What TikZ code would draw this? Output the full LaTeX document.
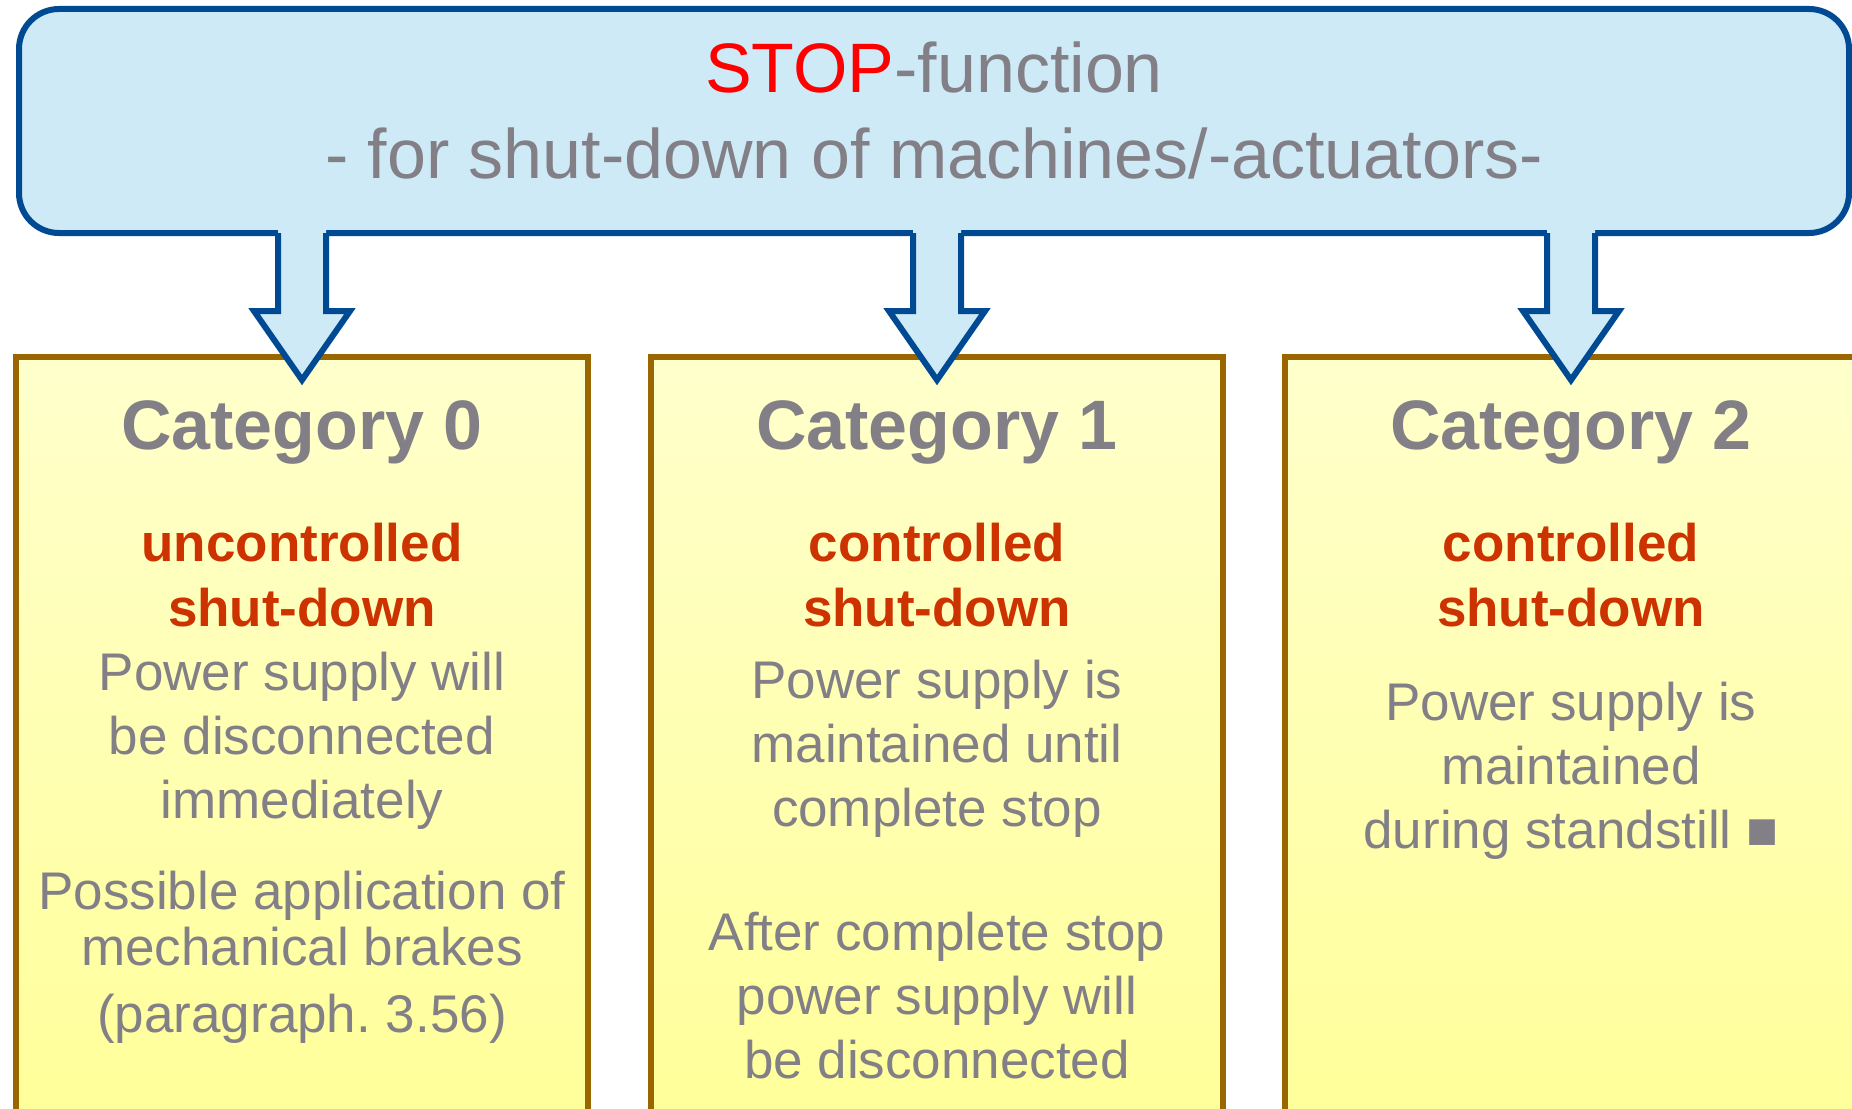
\documentclass[tikz,border=0pt]{standalone}
\usepackage{fontspec}
\setmainfont{Liberation Sans}
\usepackage{tikz}
\usetikzlibrary{calc}
\frenchspacing
\definecolor{stopblue}{RGB}{0,74,148}
\definecolor{stopfill}{RGB}{206,234,247}
\definecolor{stopred}{RGB}{255,0,0}
\definecolor{txtgray}{RGB}{130,128,134}
\definecolor{catred}{RGB}{204,51,0}
\definecolor{catbrown}{RGB}{153,102,0}
\definecolor{cattop}{RGB}{255,255,204}
\definecolor{catbot}{RGB}{255,255,153}
\tikzset{
  stopbox/.style={draw=stopblue, line width=6pt, fill=stopfill, rounded corners=40pt,
    minimum width=1830pt, minimum height=224pt, outer sep=0pt},
  stoptitle/.style={text=txtgray, font=\fontsize{70}{86}\selectfont, align=center, anchor=base, inner sep=0pt},
  catbox/.style={draw=catbrown, line width=6pt, top color=cattop, bottom color=catbot,
    minimum width=572pt, minimum height=770pt, anchor=north, outer sep=0pt},
  cattitle/.style={text=txtgray, font=\fontsize{70}{84}\selectfont\bfseries, anchor=base, inner sep=0pt},
  catmode/.style={text=catred, font=\fontsize{53}{65}\selectfont\bfseries, align=center, anchor=base, inner sep=0pt},
  cattext/.style={text=txtgray, font=\fontsize{53}{64}\selectfont, align=center, anchor=base, inner sep=0pt},
  arrowfill/.style={fill=stopfill},
  arrowline/.style={draw=stopblue, line width=6pt},
}
\begin{document}
\begin{tikzpicture}[x=1pt,y=-1pt]
  \useasboundingbox (0,0) rectangle (1852,1108);
  \clip (0,0) rectangle (1852,1108);

  \node[stopbox] (stopfn) at (934,121) {};
  \node[stoptitle] (stoptext) at (934,178) {\textcolor{stopred}{STOP}-function\\- for shut-down of machines/-actuators-};

  \node[catbox] (cat0) at (302,357) {};
  \node[catbox] (cat1) at (937,357) {};
  \node[catbox] (cat2) at (1571,357) {};

  \foreach \k in {0,1,2}{
    \coordinate (root\k) at (stopfn.south -| cat\k.north);
    \fill[arrowfill] ([shift={(-24,-8)}]root\k) -- ++(0,86) -- ++(-24,0) -- ++(48,69) -- ++(48,-69) -- ++(-24,0) -- ++(0,-86) -- cycle;
    \draw[arrowline] ([xshift=-24pt]root\k) -- ++(0,78) -- ++(-24,0) -- ++(48,69) -- ++(48,-69) -- ++(-24,0) -- ++(0,-78);
  }

  \node[cattitle] (head0) at (302,449) {Category 0};
  \node[catmode] (mode0) at (302,626) {uncontrolled\\shut-down};
  \node[cattext] (info0) at (302,818) {Power supply will\\be disconnected\\immediately};
  \node[cattext, font=\fontsize{53}{56}\selectfont] (brake0) at (302,1032) {Possible application of\\mechanical brakes\\[11pt](paragraph. 3.56)};

  \node[cattitle] (head1) at (937,449) {Category 1};
  \node[catmode] (mode1) at (937,626) {controlled\\shut-down};
  \node[cattext] (info1) at (937,826) {Power supply is\\maintained until\\complete stop};
  \node[cattext] (after1) at (937,1078) {After complete stop\\power supply will\\be disconnected};

  \node[cattitle] (head2) at (1571,449) {Category 2};
  \node[catmode] (mode2) at (1571,626) {controlled\\shut-down};
  \node[cattext] (info2) at (1571,848) {Power supply is\\maintained\\during standstill ■};
\end{tikzpicture}
\end{document}
